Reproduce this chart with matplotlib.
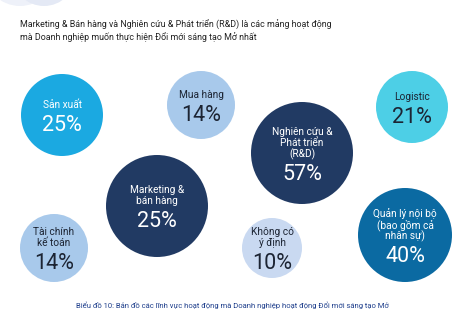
import matplotlib
matplotlib.use("Agg")
import matplotlib.pyplot as plt
from matplotlib.patches import Circle

plt.rcParams['font.family'] = ['Roboto', 'DejaVu Sans']

# ---- data ----
categories = ["Sản xuất", "Mua hàng", "Marketing &\nbán hàng", "Tài chính\nkế toán",
              "Nghiên cứu &\nPhát triển\n(R&D)", "Logistic", "Không có\ný định",
              "Quản lý nội bộ\n(bao gồm cả\nnhân sự)"]
values = [25, 14, 25, 14, 57, 21, 10, 40]

title = ("Marketing & Bán hàng và Nghiên cứu & Phát triển (R&D) là các mảng hoạt động\n"
         "mà Doanh nghiệp muốn thực hiện Đổi mới sáng tạo Mở nhất")
caption = "Biểu đồ 10: Bản đồ các lĩnh vực hoạt động mà Doanh nghiệp hoạt động Đổi mới sáng tạo Mở"

# ---- layout (pixel coordinates) ----
centers_x = [62, 201, 157, 54, 302, 412, 272, 405]
centers_y = [115, 105, 206, 248, 153, 107, 248, 235]
radii = [41, 34, 51, 34, 51, 36, 30, 47]
fill_colors = ["#1ba9e1", "#a8c9eb", "#213a63", "#a8c9eb", "#213a63", "#4dcfe6", "#c9d9f1", "#0b6aa2"]
text_colors = ["white", "#1c2433", "white", "#1c2433", "white", "#1c2433", "#1c2433", "white"]

W, H = 461, 323
fig = plt.figure(figsize=(W / 100, H / 100), dpi=100)
ax = fig.add_axes([0, 0, 1, 1])
ax.set_xlim(0, W)
ax.set_ylim(H, 0)
ax.set_aspect('equal')
ax.axis('off')

# decorative faint shapes top-left
ax.add_patch(Circle((20, -30), 36, color="#eef1f9", lw=0))
ax.add_patch(Circle((44, -26), 32, color="#e4e9f5", lw=0))

ax.text(20, 31, title, fontsize=6.4, color="#222222", va='center', ha='left',
        linespacing=1.2)

line_h = 11.0
pct_gap = 20.5
for cat, val, cx, cy, r, fc, tc in zip(categories, values, centers_x, centers_y,
                                        radii, fill_colors, text_colors):
    ax.add_patch(Circle((cx, cy), r, color=fc, lw=0))
    lines = cat.split("\n")
    n = len(lines)
    total = (n - 1) * line_h + pct_gap
    top = cy - total / 2
    for i, ln in enumerate(lines):
        ax.text(cx, top + i * line_h, ln, fontsize=7.3, color=tc, ha='center', va='center')
    ax.text(cx, top + (n - 1) * line_h + pct_gap, f"{val}%", fontsize=15.5, color=tc,
            ha='center', va='center')

ax.text(232, 305, caption, fontsize=5.5, color="#1f3f8c", ha='center', va='center')

fig.savefig("out.png", dpi=100)
